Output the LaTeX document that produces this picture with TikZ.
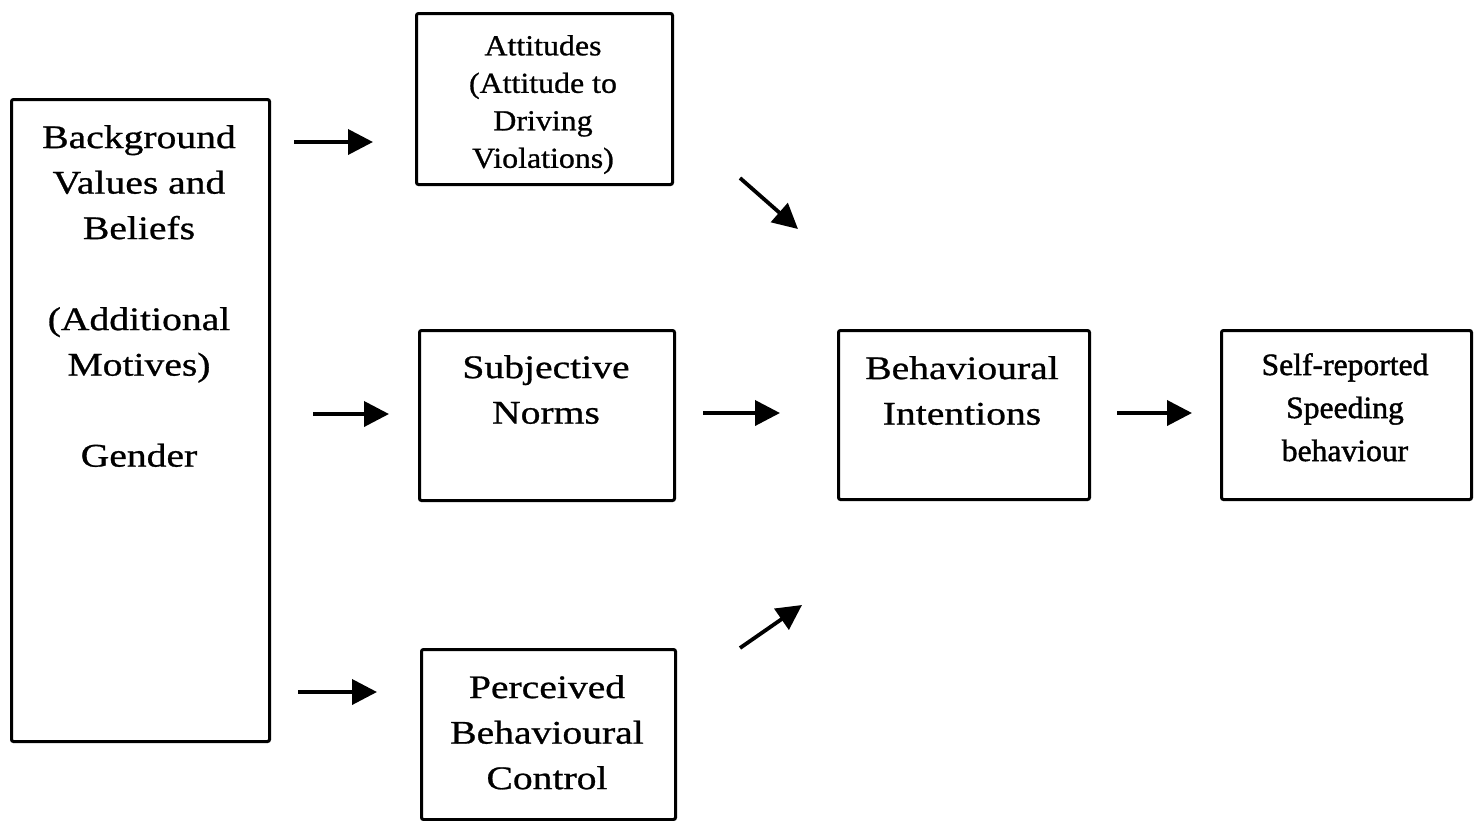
\documentclass[tikz,border=0pt]{standalone}
\usepackage{fontspec}
\setmainfont{Liberation Serif}
\newfontfamily\widefont[FakeStretch=1.2,FakeBold=0.8]{Liberation Serif}
\newfontfamily\midfont[FakeStretch=1.1,FakeBold=0.9]{Liberation Serif}
\newfontfamily\narrowfont[FakeStretch=1.02,FakeBold=1.4]{Liberation Serif}
\usetikzlibrary{arrows.meta}

\begin{document}
\begin{tikzpicture}[x=1pt,y=-1pt,
  box/.style={draw, line width=3pt, rounded corners=2pt, inner sep=0pt, anchor=north west},
  boxtext/.style={inner sep=0pt, align=center, anchor=north},
  bigtext/.style={font=\widefont\fontsize{33}{45.5}\selectfont},
  flow/.style={line width=3.8pt, -{Triangle[length=25pt,width=25pt]}}
]
\useasboundingbox (0,0) rectangle (1475,820);

% frames
\node[box, minimum width=258pt, minimum height=642pt] (bg)  at (10,98)   {};
\node[box, minimum width=256pt, minimum height=171pt] (att) at (415,12)  {};
\node[box, minimum width=255pt, minimum height=170pt] (sub) at (418,329) {};
\node[box, minimum width=254pt, minimum height=170pt] (pbc) at (420,648) {};
\node[box, minimum width=251pt, minimum height=169pt] (bi)  at (837,329) {};
\node[box, minimum width=250pt, minimum height=169pt] (sr)  at (1220,329){};

% texts
\node[boxtext, bigtext] (bgt) at (139,125)
  {Background\\Values and\\Beliefs\\[45.5pt](Additional\\Motives)\\[45.5pt]Gender};
\node[boxtext, font=\midfont\fontsize{29}{37.5}\selectfont] (attt) at (543,35)
  {Attitudes\\(Attitude to\\Driving\\Violations)};
\node[boxtext, bigtext] (subt) at (546,355) {Subjective\\Norms};
\node[boxtext, bigtext] (pbct) at (547,675) {Perceived\\Behavioural\\Control};
\node[boxtext, bigtext] (bit) at (962,356) {Behavioural\\Intentions};
\node[boxtext, font=\narrowfont\fontsize{31}{43}\selectfont] (srt) at (1345,353)
  {Self-reported\\Speeding\\behaviour};

% free-standing arrows
\coordinate (a1s) at (294,142);  \coordinate (a1e) at (373,142);
\coordinate (a2s) at (313,414);  \coordinate (a2e) at (389,414);
\coordinate (a3s) at (298,692);  \coordinate (a3e) at (377,692);
\coordinate (a4s) at (740,178);  \coordinate (a4e) at (798,229);
\coordinate (a5s) at (703,413);  \coordinate (a5e) at (780,413);
\coordinate (a6s) at (740,648);  \coordinate (a6e) at (802,605);
\coordinate (a7s) at (1117,413); \coordinate (a7e) at (1192,413);

\foreach \i in {1,...,7} \draw[flow] (a\i s) -- (a\i e);
\end{tikzpicture}
\end{document}
